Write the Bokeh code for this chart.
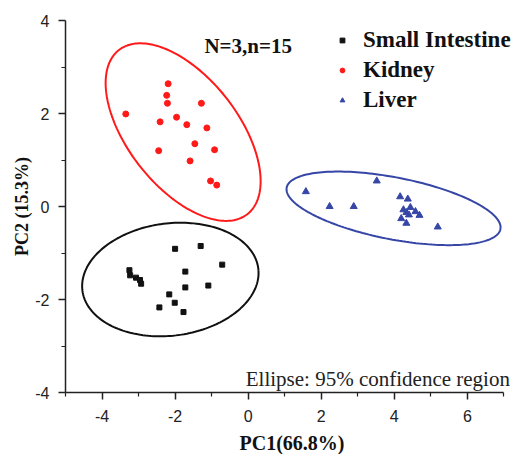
import numpy as np
from bokeh.plotting import figure
from bokeh.models import FixedTicker, Label, Legend, LegendItem
from bokeh.embed import file_html
from bokeh.resources import INLINE

# ---- data ----
groups = ["Small Intestine", "Kidney", "Liver"]

si_x = [-2.00, -1.30, -0.71, -1.72, -3.25, -3.23, -3.07, -2.96, -2.93, -1.72, -1.09, -2.16, -2.01, -2.43, -1.77]
si_y = [-0.91, -0.85, -1.25, -1.40, -1.37, -1.48, -1.53, -1.58, -1.66, -1.74, -1.70, -1.89, -2.07, -2.17, -2.27]

kid_x = [-3.35, -2.19, -2.23, -2.21, -1.28, -2.41, -1.96, -1.68, -1.13, -1.46, -2.45, -0.92, -1.59, -1.03, -0.86]
kid_y = [1.99, 2.64, 2.39, 2.22, 2.22, 1.82, 1.92, 1.76, 1.69, 1.35, 1.20, 1.22, 0.98, 0.55, 0.46]

liv_x = [1.58, 3.52, 2.23, 2.89, 4.16, 4.37, 4.44, 4.33, 4.40, 4.58, 4.69, 4.19, 4.33, 5.19, 4.25]
liv_y = [0.32, 0.55, 0.00, 0.00, 0.21, 0.16, -0.02, -0.13, -0.18, -0.11, -0.19, -0.26, -0.36, -0.44, -0.07]

# 95% confidence ellipses: centre, semi-axes and angle (data units, degrees)
ell_cx = [-2.13, -1.78, 3.98]
ell_cy = [-1.57, 1.60, -0.04]
ell_a = [2.42, 2.52, 2.96]
ell_b = [1.21, 1.34, 0.67]
ell_angle = [4.5, -39.6, -8.4]

x_ticks = [-4, -2, 0, 2, 4, 6]
x_tick_labels = ["-4", "-2", "0", "2", "4", "6"]
x_minor = [-5, -3, -1, 1, 3, 5, 7]
y_ticks = [-4, -2, 0, 2, 4]
y_tick_labels = ["-4", "-2", "0", "2", "4"]
y_minor = [-3, -1, 1, 3]

colors = ["#111111", "#ff1a1a", "#3646a6"]
serif = "Liberation Serif"
sans = "Liberation Sans"

p = figure(frame_width=453, frame_height=372, x_range=(-5, 7.4), y_range=(-4, 4),
           output_backend="svg", toolbar_location=None,
           min_border_left=65, min_border_right=0, min_border_top=20, min_border_bottom=30)
p.outline_line_color = None
p.grid.visible = False
p.background_fill_color = "white"

# ellipses
phi = np.linspace(0, 2 * np.pi, 200)
for cx, cy, a, b, ang, c in zip(ell_cx, ell_cy, ell_a, ell_b, ell_angle, colors):
    t = np.deg2rad(ang)
    ex = cx + a * np.cos(phi) * np.cos(t) - b * np.sin(phi) * np.sin(t)
    ey = cy + a * np.cos(phi) * np.sin(t) + b * np.sin(phi) * np.cos(t)
    p.line(ex, ey, line_color=c, line_width=2)

r_si = p.scatter(si_x, si_y, marker="square", size=5, fill_color=colors[0], line_color=colors[0])
r_kid = p.scatter(kid_x, kid_y, marker="circle", size=6, fill_color=colors[1], line_color=colors[1])
r_liv = p.scatter(liv_x, liv_y, marker="triangle", size=7, fill_color=colors[2], line_color=colors[2])

legend = Legend(items=[LegendItem(label=groups[0], renderers=[r_si]),
                       LegendItem(label=groups[1], renderers=[r_kid]),
                       LegendItem(label=groups[2], renderers=[r_liv])],
                location=(271, 278), padding=0, margin=0, spacing=2,
                glyph_width=12, glyph_height=28, label_height=28, label_standoff=15,
                label_text_font=serif, label_text_font_style="bold",
                label_text_font_size="23px", label_text_color="#111111",
                background_fill_alpha=0, border_line_color=None)
p.add_layout(legend)

p.add_layout(Label(x=0, y=3.46, text="N=3,n=15", text_align="center", text_baseline="middle",
                   text_font=serif, text_font_style="bold", text_font_size="21px",
                   text_color="#111111"))
p.add_layout(Label(x=3.55, y=-3.70, text="Ellipse: 95% confidence region", text_align="center",
                   text_baseline="middle", text_font=serif, text_font_size="21px",
                   text_color="#222222"))

for ax, ticks, labels, minor in ((p.xaxis, x_ticks, x_tick_labels, x_minor),
                                 (p.yaxis, y_ticks, y_tick_labels, y_minor)):
    ax.ticker = FixedTicker(ticks=ticks, minor_ticks=minor)
    ax.major_label_overrides = dict(zip(ticks, labels))
    ax.axis_line_width = 1.5
    ax.axis_line_color = "#222222"
    ax.major_tick_line_color = "#222222"
    ax.minor_tick_line_color = "#222222"
    ax.major_tick_line_width = 1.5
    ax.minor_tick_line_width = 1.2
    ax.major_tick_in = 0
    ax.major_tick_out = 7
    ax.minor_tick_in = 0
    ax.minor_tick_out = 4
    ax.major_label_text_font = sans
    ax.major_label_text_font_size = "16px"
    ax.major_label_text_color = "#222222"
    ax.axis_label_text_font = serif
    ax.axis_label_text_font_style = "bold"
    ax.axis_label_text_color = "#111111"

p.xaxis.bounds = (-5, 7)
p.xaxis.axis_label = "PC1(66.8%)"
p.xaxis.axis_label_text_font_size = "20px"
p.xaxis.major_label_standoff = 10
p.xaxis.axis_label_standoff = 7
p.yaxis.axis_label = "PC2 (15.3%)"
p.yaxis.axis_label_text_font_size = "18px"
p.yaxis.major_label_standoff = 9
p.yaxis.axis_label_standoff = 0

open("out.html", "w").write(file_html(p, INLINE))
